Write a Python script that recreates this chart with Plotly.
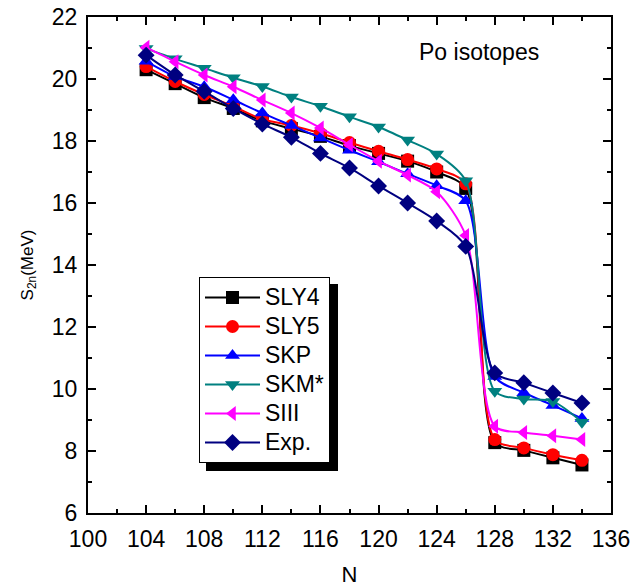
import plotly.graph_objects as go

N = [104, 106, 108, 110, 112, 114, 116, 118, 120, 122, 124, 126, 128, 130, 132, 134]

SLY4 = [20.3, 19.85, 19.4, 19.05, 18.65, 18.4, 18.15, 17.85, 17.6, 17.35, 17.0, 16.47, 8.27, 8.02, 7.78, 7.55]
SLY5 = [20.4, 19.92, 19.5, 19.12, 18.7, 18.5, 18.25, 17.95, 17.67, 17.4, 17.1, 16.62, 8.37, 8.1, 7.88, 7.7]
SKP = [20.57, 20.08, 19.75, 19.33, 18.9, 18.5, 18.1, 17.7, 17.33, 16.94, 16.56, 16.07, 10.4, 9.88, 9.47, 9.05]
SKM = [20.98, 20.65, 20.35, 20.04, 19.76, 19.42, 19.12, 18.78, 18.45, 18.03, 17.58, 16.72, 9.93, 9.68, 9.6, 8.93]
SIII = [21.02, 20.56, 20.13, 19.75, 19.32, 18.9, 18.42, 17.88, 17.35, 16.9, 16.36, 14.95, 8.8, 8.6, 8.49, 8.37]
EXP = [20.77, 20.13, 19.6, 19.05, 18.55, 18.12, 17.6, 17.13, 16.55, 16.0, 15.42, 14.6, 10.52, 10.2, 9.87, 9.55]

series = [
    ("SLY4", SLY4, "#000000", "square"),
    ("SLY5", SLY5, "#FF0000", "circle"),
    ("SKP", SKP, "#0000FF", "triangle-up"),
    ("SKM*", SKM, "#008080", "triangle-down"),
    ("SIII", SIII, "#FF00FF", "triangle-left"),
    ("Exp.", EXP, "#000080", "diamond"),
]

fig = go.Figure()
for name, ys, col, sym in series:
    fig.add_trace(go.Scatter(
        x=N, y=ys, name="<span style='font-size:23px'>%s</span>" % name,
        mode="lines+markers",
        line=dict(color=col, width=2, shape="spline", smoothing=0.8),
        marker=dict(symbol=sym, size=13, color=col),
    ))

W, H = 633, 587
ml, mr, mt, mb = 88, 22, 17, 74
pw, ph = W - ml - mr, H - mt - mb

def px(x):
    return (x - ml) / pw

def py(y):
    return (H - mb - y) / ph

# legend shadow
fig.add_shape(type="rect", xref="paper", yref="paper",
              x0=px(206), x1=px(338), y0=py(471), y1=py(284),
              fillcolor="black", line=dict(width=0), layer="above")

fig.add_annotation(text="Po isotopes", xref="paper", yref="paper",
                   x=px(479), y=py(52), showarrow=False,
                   xanchor="center", yanchor="middle",
                   font=dict(size=23, color="black", family="Arial"))

axis_common = dict(
    showgrid=False, zeroline=False, showline=True, linecolor="black",
    linewidth=2, mirror="ticks", ticks="inside", ticklen=8, tickwidth=2,
    tickcolor="black", tickfont=dict(size=23, family="Arial", color="black"),
    automargin=False,
)

fig.update_layout(
    width=W, height=H,
    margin=dict(l=ml, r=mr, t=mt, b=mb),
    paper_bgcolor="white", plot_bgcolor="white",
    font=dict(family="Arial", color="black"),
    xaxis=dict(range=[100, 136], dtick=4, tick0=100, ticklabelstandoff=4,
               minor=dict(dtick=2, ticks="inside", ticklen=4, tickwidth=1.5, tickcolor="black"),
               title=dict(text="N", font=dict(size=22), standoff=18),
               **axis_common),
    yaxis=dict(range=[6, 22], dtick=2, tick0=6, ticklabelstandoff=4,
               minor=dict(dtick=1, ticks="inside", ticklen=4, tickwidth=1.5, tickcolor="black"),
               title=dict(text="S<sub>2n</sub>(MeV)",
                          font=dict(size=17), standoff=14),
               **axis_common),
    legend=dict(x=px(199), y=py(277), xanchor="left", yanchor="top",
                bgcolor="white", bordercolor="black", borderwidth=1,
                font=dict(size=20, family="Arial", color="black"),
                itemwidth=55, tracegroupgap=0),
    showlegend=True,
)

fig.write_html("out.html")
